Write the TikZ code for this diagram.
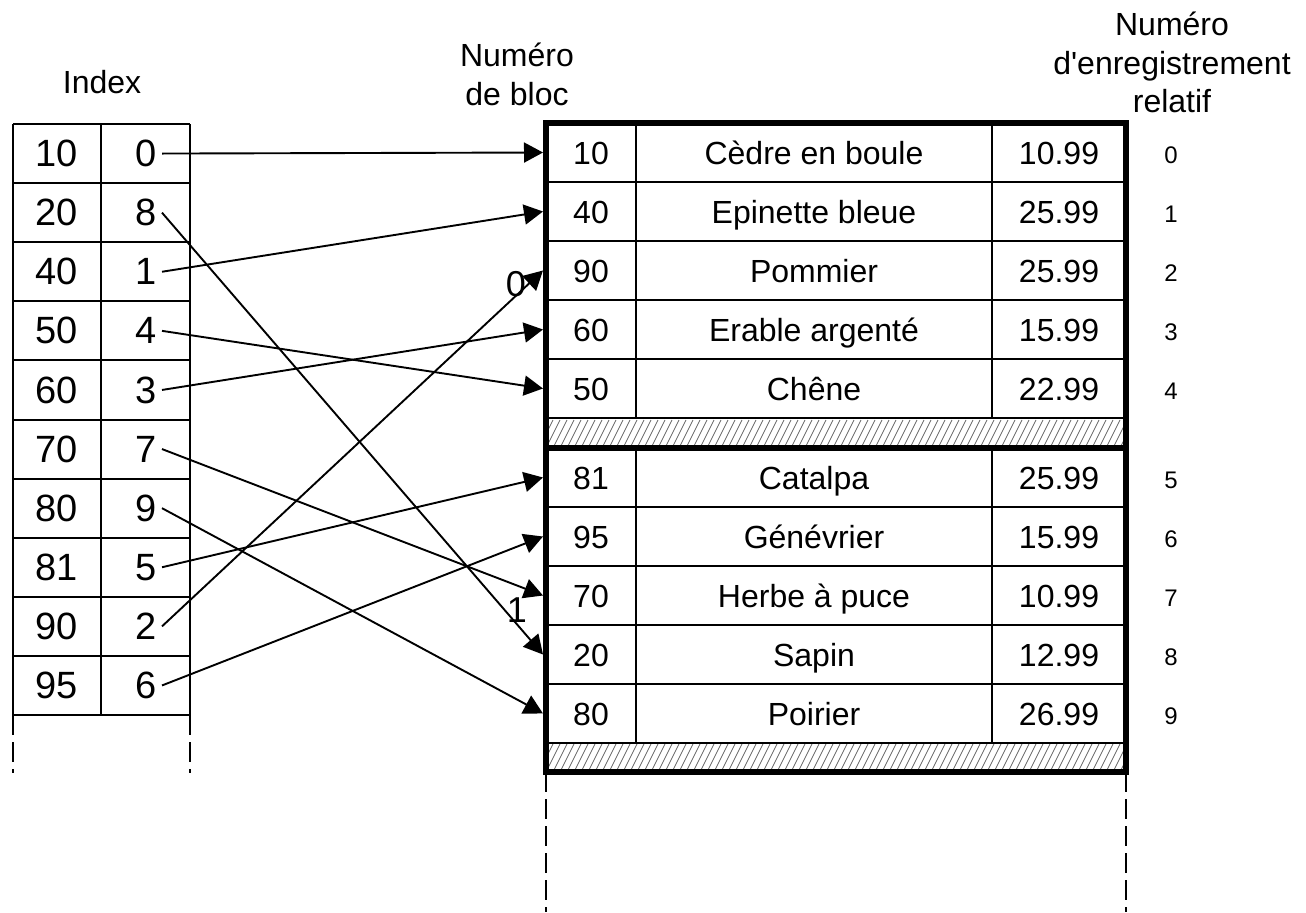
\documentclass[tikz,border=0pt]{standalone}
\usepackage{fontspec}
\newfontfamily\arial{Liberation Sans}
\usetikzlibrary{arrows.meta}
\newcommand\setfs[1]{\fontsize{#1bp}{#1bp}\selectfont}

\begin{document}
\begin{tikzpicture}[x=1bp,y=-1bp,
  gridline/.style={line width=2bp},
  rule/.style={line width=2bp},
  blockframe/.style={line width=5.5bp, line join=miter},
  dashline/.style={line width=2.4bp, dash pattern=on 20bp off 7bp},
  hatch/.style={line width=0.8bp, black!60},
  idxtxt/.style={font=\arial\setfs{38}, inner sep=0pt},
  celltxt/.style={font=\arial\setfs{32}, inner sep=0pt, anchor=base},
  headtxt/.style={font=\arial\setfs{32}, inner sep=0pt, anchor=base},
  recno/.style={font=\arial\setfs{24}, inner sep=0pt},
  blockno/.style={font=\arial\setfs{36}, inner sep=0pt},
  conn/.style={line width=1.9bp, -{Triangle[length=19bp,width=20bp]}}]

\useasboundingbox (0,0) rectangle (1306,912);

% ---------- headers ----------
\node[headtxt] (hidx) at (102,93) {Index};
\node[headtxt] (hblk1) at (517,66) {Numéro};
\node[headtxt] (hblk2) at (517,105) {de bloc};
\node[headtxt] (hrec1) at (1172,35) {Numéro};
\node[headtxt] (hrec2) at (1172,74) {d'enregistrement};
\node[headtxt] (hrec3) at (1172,112) {relatif};

% ---------- index table ----------
\foreach \i in {0,...,10}
  \draw[gridline] (13,{124+59.1*\i}) -- (190,{124+59.1*\i});
\foreach \x in {13,101,190}
  \draw[gridline] (\x,124) -- (\x,715);
\draw[dashline] (13,715) -- (13,773);
\draw[dashline] (190,715) -- (190,773);

\foreach \i/\key/\ptr in {0/10/0,1/20/8,2/40/1,3/50/4,4/60/3,5/70/7,6/80/9,7/81/5,8/90/2,9/95/6}{
  \pgfmathsetmacro\yy{124+59.1*\i+29.55}
  \node[idxtxt] (key\i) at (57,\yy) {\key};
  \node[idxtxt, anchor=east, inner xsep=5bp] (ptr\i) at (162,\yy) {\ptr};
}

% ---------- data file: hatched block trailers ----------
\foreach \top/\bot in {419/448, 743/772}{
  \begin{scope}
    \clip (546,\top) rectangle (1126,\bot);
    \foreach \k in {0,...,86}
      \draw[hatch] ({532+7*\k},\bot) -- ++(14,-28);
  \end{scope}
}

% ---------- data file: record grid ----------
\foreach \yt in {123,448}{
  \foreach \k in {1,...,5}
    \draw[rule] (546,{\yt+59*\k}) -- (1126,{\yt+59*\k});
  \draw[rule] (636,\yt) -- (636,{\yt+295});
  \draw[rule] (992,\yt) -- (992,{\yt+295});
}

% ---------- records ----------
\foreach \r/\y/\id/\nm/\pr in {
  0/152.5/10/Cèdre en boule/10.99,
  1/211.5/40/Epinette bleue/25.99,
  2/270.5/90/Pommier/25.99,
  3/329.5/60/Erable argenté/15.99,
  4/388.5/50/Chêne/22.99,
  5/477.5/81/Catalpa/25.99,
  6/536.5/95/Génévrier/15.99,
  7/595.5/70/Herbe à puce/10.99,
  8/654.5/20/Sapin/12.99,
  9/713.5/80/Poirier/26.99}{
  \node[celltxt] (id\r) at (591,{\y+11.5}) {\id};
  \node[celltxt] (nm\r) at (814,{\y+11.5}) {\nm};
  \node[celltxt] (pr\r) at (1059,{\y+11.5}) {\pr};
  \node[recno] (rn\r) at (1171,{\y+3}) {\r};
  \coordinate (t\r) at (543,\y);
}

% ---------- block outlines ----------
\draw[blockframe] (546,123) rectangle (1126,448);
\draw[blockframe] (546,448) rectangle (1126,772);
\draw[dashline] (546,772) -- (546,912);
\draw[dashline] (1126,772) -- (1126,912);

% ---------- pointers from index to records ----------
\foreach \i/\p in {0/0,1/8,2/1,3/4,4/3,5/7,6/9,7/5,8/2,9/6}
  \draw[conn] (ptr\i.east) -- (t\p);

% ---------- block numbers ----------
\node[blockno] (blk0) at (516,284) {0};
\node[blockno] (blk1) at (517,610) {1};

\end{tikzpicture}
\end{document}
